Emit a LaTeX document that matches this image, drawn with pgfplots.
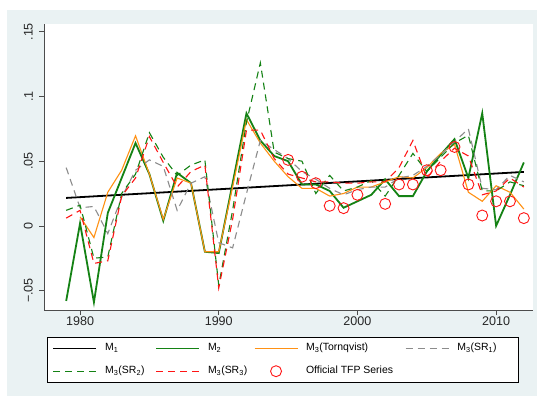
\documentclass[border=0pt]{standalone}
\usepackage{pgfplots}
\pgfplotsset{compat=1.18}
\usepackage{fontspec}
\setmainfont{Liberation Sans}

\definecolor{regionbg}{RGB}{234,242,243}
\definecolor{mgreen}{RGB}{20,130,20}
\definecolor{morange}{RGB}{255,145,20}
\definecolor{mgray}{RGB}{140,140,140}
\definecolor{mred}{RGB}{255,20,20}

\pgfplotsset{
  line legend wide/.style={legend image code/.code={\draw[##1] (0bp,0bp) -- (43bp,0bp);}},
  dashed legend wide/.style={legend image code/.code={%
    \draw[color=#1, line width=1.2bp, dash pattern=on 7bp off 5bp] (0bp,0bp) -- (43bp,0bp);}},
  mark legend wide/.style={legend image code/.code={\draw[##1] plot coordinates {(21.5bp,0bp)};}},
}

\begin{document}
\begin{tikzpicture}
% page and graph region
\fill[white] (0bp,0bp) rectangle (537bp,396bp);
\fill[regionbg] (7bp,0bp) rectangle (537bp,386bp);
\begin{axis}[
  at={(44bp,86bp)}, anchor=south west,
  scale only axis, width=489bp, height=286bp,
  xmin=1977.4, xmax=2012.66, ymin=-0.065, ymax=0.156,
  axis x line*=bottom, axis y line*=left,
  axis line style={black!70, line width=0.6bp},
  axis background/.style={fill=white},
  xtick={1980,1990,2000,2010}, xticklabels={1980,1990,2000,2010},
  ytick={-0.05,0,0.05,0.1,0.15}, yticklabels={−.05,0,.05,.1,.15},
  tick align=outside, major tick length=5bp,
  tick style={black!70, line width=0.6bp},
  tick label style={font=\fontsize{12.6}{14}\selectfont, text=black!85},
  yticklabel style={rotate=90, anchor=south, inner sep=0pt},
  yticklabel shift=6bp,
  xticklabel style={anchor=north, inner sep=0pt},
  xticklabel shift=2bp,
  legend columns=4,
  legend style={at={(axis description cs:0.00613,-0.0944)}, anchor=north west,
    draw=black, line width=0.8bp, fill=white,
    inner xsep=5bp, inner ysep=6bp, row sep=12.3bp,
    font=\fontsize{10.5}{12}\selectfont,
    nodes={inner sep=0pt, text height=7.5bp, text depth=2.5bp},
    cells={anchor=west},
    /tikz/every odd column/.append style={column sep=8bp}},
  line legend wide,
]
% M1: fitted trend
\addplot[black, line width=1.8bp] coordinates {(1979,0.0216) (2012,0.0417)};
\addlegendentry{\makebox[50bp][l]{M\textsubscript{1}}}
% M2
\addplot[mgreen, line width=1.8bp] coordinates {
 (1979,-0.058) (1980,0.002) (1981,-0.059) (1982,0.010) (1983,0.037)
 (1984,0.064) (1985,0.040) (1986,0.004) (1987,0.041) (1988,0.033)
 (1989,-0.020) (1990,-0.021) (1991,0.033) (1992,0.087) (1993,0.066)
 (1994,0.054) (1995,0.050) (1996,0.032) (1997,0.032) (1998,0.027)
 (1999,0.014) (2000,0.019) (2001,0.024) (2002,0.036) (2003,0.023)
 (2004,0.023) (2005,0.042) (2006,0.055) (2007,0.067) (2008,0.037)
 (2009,0.087) (2010,0.000) (2011,0.024) (2012,0.049)};
\addlegendentry{\makebox[46bp][l]{M\textsubscript{2}}}
% M3 (Tornqvist)
\addplot[morange, line width=1.1bp] coordinates {
 (1980,0.007) (1981,-0.009) (1982,0.026) (1983,0.043)
 (1984,0.0696) (1985,0.040) (1986,0.005) (1987,0.037) (1988,0.033)
 (1989,-0.020) (1990,-0.020) (1991,0.030) (1992,0.082) (1993,0.064)
 (1994,0.050) (1995,0.038) (1996,0.029) (1997,0.029) (1998,0.023)
 (1999,0.025) (2000,0.030) (2001,0.030) (2002,0.034) (2003,0.038)
 (2004,0.037) (2005,0.045) (2006,0.056) (2007,0.063) (2008,0.026)
 (2009,0.019) (2010,0.031) (2011,0.026) (2012,0.013)};
\addlegendentry{\makebox[99bp][l]{M\textsubscript{3}(Tornqvist)}}
% M3 (SR1)
\addplot[mgray, line width=1.1bp, dash pattern=on 7bp off 5bp, dashed legend wide=mgray] coordinates {
 (1979,0.045) (1980,0.014) (1981,0.015) (1982,-0.006) (1983,0.022)
 (1984,0.043) (1985,0.051) (1986,0.046) (1987,0.012) (1988,0.033)
 (1989,0.038) (1990,-0.013) (1991,-0.017) (1992,0.025) (1993,0.066)
 (1994,0.059) (1995,0.052) (1996,0.042) (1997,0.036) (1998,0.029)
 (1999,0.024) (2000,0.028) (2001,0.030) (2002,0.030) (2003,0.037)
 (2004,0.039) (2005,0.046) (2006,0.055) (2007,0.065) (2008,0.075)
 (2009,0.029) (2010,0.028) (2011,0.039) (2012,0.034)};
\addlegendentry{\makebox[56bp][l]{M\textsubscript{3}(SR\textsubscript{1})}}
% M3 (SR2)
\addplot[mgreen, line width=1.1bp, dash pattern=on 7bp off 5bp, dashed legend wide=mgreen] coordinates {
 (1979,0.012) (1980,0.016) (1981,-0.025) (1982,-0.024) (1983,0.025)
 (1984,0.040) (1985,0.072) (1986,0.053) (1987,0.039) (1988,0.047)
 (1989,0.051) (1990,-0.046) (1991,0.012) (1992,0.080) (1993,0.126)
 (1994,0.057) (1995,0.052) (1996,0.050) (1997,0.025) (1998,0.039)
 (1999,0.027) (2000,0.030) (2001,0.035) (2002,0.023) (2003,0.039)
 (2004,0.056) (2005,0.042) (2006,0.053) (2007,0.064) (2008,0.070)
 (2009,0.027) (2010,0.027) (2011,0.034) (2012,0.031)};
\addlegendentry{\makebox[50bp][l]{M\textsubscript{3}(SR\textsubscript{2})}}
% M3 (SR3)
\addplot[mred, line width=1.1bp, dash pattern=on 7bp off 5bp, dashed legend wide=mred] coordinates {
 (1979,0.006) (1980,0.012) (1981,-0.029) (1982,-0.027) (1983,0.023)
 (1984,0.037) (1985,0.069) (1986,0.049) (1987,0.030) (1988,0.042)
 (1989,0.047) (1990,-0.048) (1991,0.005) (1992,0.074) (1993,0.074)
 (1994,0.052) (1995,0.040) (1996,0.037) (1997,0.034) (1998,0.034)
 (1999,0.033) (2000,0.033) (2001,0.034) (2002,0.034) (2003,0.045)
 (2004,0.066) (2005,0.037) (2006,0.050) (2007,0.060) (2008,0.054)
 (2009,0.024) (2010,0.027) (2011,0.037) (2012,0.030)};
\addlegendentry{\makebox[46bp][l]{M\textsubscript{3}(SR\textsubscript{3})}}
% official series
\addplot[only marks, mark=o, mark size=5.5bp, mred, mark options={line width=0.9bp},
  mark legend wide] coordinates {
 (1995,0.051) (1996,0.038) (1997,0.033) (1998,0.0155) (1999,0.0137)
 (2000,0.024) (2002,0.017) (2003,0.032) (2004,0.032) (2005,0.043)
 (2006,0.043) (2007,0.061) (2008,0.032) (2009,0.008) (2010,0.019)
 (2011,0.019) (2012,0.006)};
\addlegendentry{\makebox[99bp][l]{Official TFP Series}}
\end{axis}
\end{tikzpicture}
\end{document}
